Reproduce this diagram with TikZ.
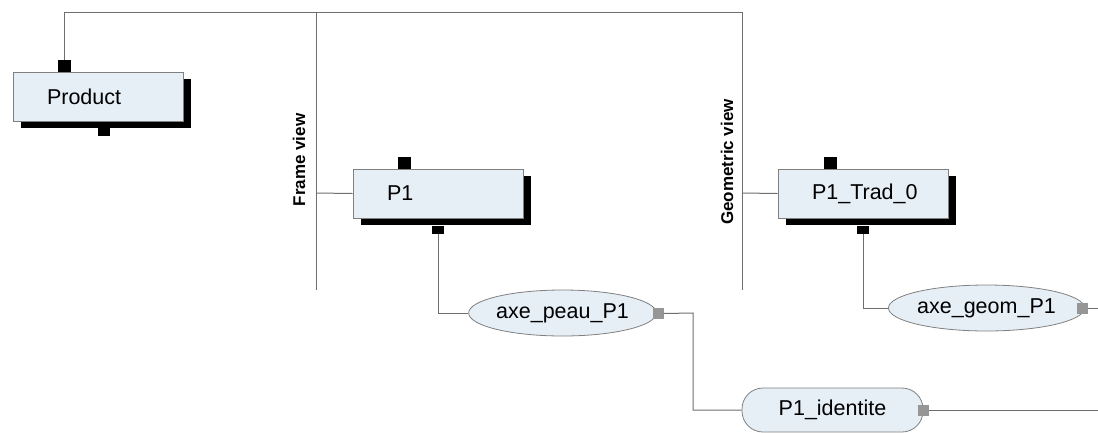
\documentclass[tikz,border=0pt]{standalone}
\usepackage{fontspec}
\setmainfont{Liberation Sans}
\usetikzlibrary{shapes.geometric,shadows}
\definecolor{boxfill}{RGB}{230,238,246}
\definecolor{boxline}{RGB}{128,128,128}
\definecolor{conn}{RGB}{110,110,110}
\definecolor{sq}{RGB}{150,150,150}
\begin{document}
\begin{tikzpicture}[x=1pt,y=-1pt,
  every node/.style={font=\fontsize{21.5}{24}\selectfont},
  obox/.style={draw=boxline,fill=boxfill,line width=1pt,minimum height=49pt,
    text width=102pt,inner xsep=34pt,inner ysep=0pt,align=left,
    general shadow={fill=black,shadow xshift=7.5pt,shadow yshift=-7pt}},
  tabtop/.style={fill=black,draw=none,minimum width=13pt,minimum height=12pt,inner sep=0pt},
  tabbot/.style={fill=black,draw=none,minimum width=12pt,minimum height=8pt,inner sep=0pt},
  oval/.style={ellipse,draw=boxline,fill=boxfill,line width=0.8pt,minimum width=181pt,minimum height=46pt,inner sep=0pt},
  pill/.style={rectangle,rounded corners=21pt,draw=boxline,fill=boxfill,line width=0.8pt,minimum width=181pt,minimum height=44pt,inner sep=0pt},
  port/.style={fill=sq,draw=none,minimum width=11pt,minimum height=11pt,inner sep=0pt},
  conn/.style={draw=conn,line width=1pt},
  viewlabel/.style={font=\fontsize{17}{19}\selectfont\bfseries,rotate=90}]
\useasboundingbox (0,0) rectangle (1098,432);
% coordinates of the frame lines
\coordinate (geomtop) at (742,12);
\coordinate (geombot) at (742,290);
\coordinate (frametop) at (316,12);
\coordinate (framebot) at (316,290);
\coordinate (fvjoin) at (316,193);
\coordinate (gvjoin) at (742,193);
\coordinate (e1) at (693,313);
\coordinate (endident) at (1098,410.5);
\coordinate (endgeom) at (1098,308.5);

% boxes
\node[obox] (product) at (98,96.5) {Product};
\node[obox] (p1) at (438,193.5) {P1};
\node[obox] (trad) at (863,193.5) {P1\_Trad\_0};

% tabs
\node[tabtop] (prodtop) at (64.5,66) {};
\node[tabbot] (prodbot) at (103.5,132) {};
\node[tabtop] (p1top) at (404.5,163) {};
\node[tabbot] (p1bot) at (438,229.5) {};
\node[tabtop] (tradtop) at (830,163) {};
\node[tabbot] (tradbot) at (863,229.5) {};

% ovals
\node[oval] (peau) at (562.5,313) {axe\_peau\_P1};
\node[oval] (geom) at (986.5,308) {axe\_geom\_P1};
\node[pill] (ident) at (832.5,410) {P1\_identite};

% ports
\node[port] (peausq) at (658,313.5) {};
\node[port] (geomsq) at (1082,308.5) {};
\node[port] (identsq) at (923.5,410.5) {};

% view labels
\node[viewlabel] (fvlabel) at (299,160) {Frame view};
\node[viewlabel] (gvlabel) at (727,162) {Geometric view};

% connectors
\draw[conn] (prodtop.north) |- (geomtop);
\draw[conn] (geomtop) -- (geombot);
\draw[conn] (frametop) -- (framebot);
\draw[conn] (fvjoin) -- (p1.west);
\draw[conn] (gvjoin) -- (trad.west);
\draw[conn] (p1bot.south) |- (peau.west);
\draw[conn] (tradbot.south) |- (geom.west);
\draw[conn] (peausq.east) -- (e1) |- (ident.west);
\draw[conn] (identsq.east) -- (endident);
\draw[conn] (geomsq.east) -- (endgeom);
\end{tikzpicture}
\end{document}
